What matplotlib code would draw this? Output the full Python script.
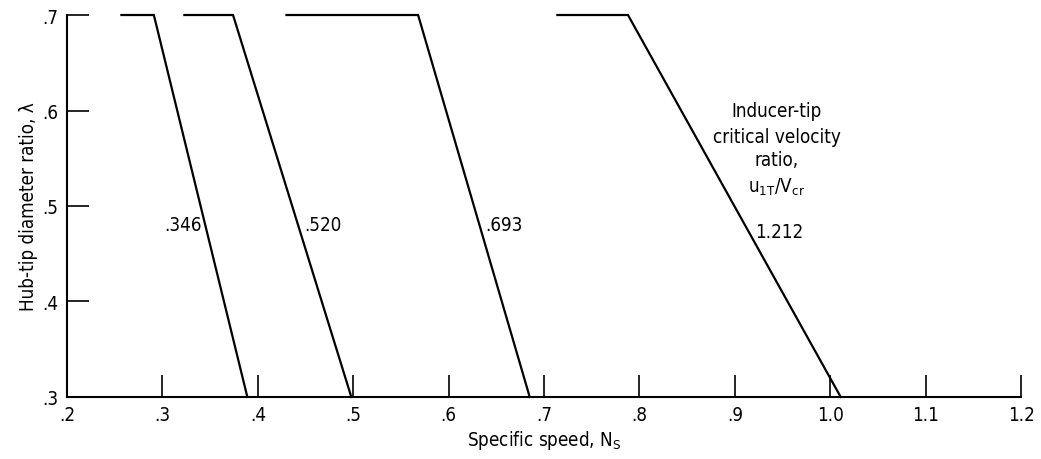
import matplotlib
matplotlib.use("Agg")
import matplotlib.pyplot as plt
from matplotlib import font_manager

names = {f.name for f in font_manager.fontManager.ttflist}
fam = ['Liberation Sans Narrow', 'DejaVu Sans'] if 'Liberation Sans Narrow' in names else ['DejaVu Sans']
plt.rcParams['font.family'] = fam
plt.rcParams['font.stretch'] = 'condensed'
plt.rcParams['mathtext.fontset'] = 'custom'
plt.rcParams['mathtext.rm'] = fam[0]
plt.rcParams['mathtext.it'] = fam[0]

# Data: each curve = horizontal at 0.7 from start to knee, then straight to (end, 0.3)
ratio_labels = ['.346', '.520', '.693', '1.212']
x_start = [0.257, 0.323, 0.430, 0.714]
x_knee = [0.291, 0.374, 0.568, 0.788]
x_end = [0.389, 0.498, 0.685, 1.011]
lam_top = 0.7
lam_bot = 0.3
label_x = [0.302, 0.449, 0.638, 0.921]
label_y = [0.481, 0.481, 0.481, 0.473]

xticks = [0.2, 0.3, 0.4, 0.5, 0.6, 0.7, 0.8, 0.9, 1.0, 1.1, 1.2]
xticklabels = ['.2', '.3', '.4', '.5', '.6', '.7', '.8', '.9', '1.0', '1.1', '1.2']
yticks = [0.3, 0.4, 0.5, 0.6, 0.7]
yticklabels = ['.3', '.4', '.5', '.6', '.7']

FS = 13.5

fig = plt.figure(figsize=(10.41, 4.6), dpi=100)
ax = fig.add_axes([0.0644, 0.1348, 0.9164, 0.8304])

for xs, xk, xe in zip(x_start, x_knee, x_end):
    ax.plot([xs, xk, xe], [lam_top, lam_top, lam_bot], color='black', lw=1.6,
            solid_joinstyle='miter', clip_on=False)

for lab, lx, ly in zip(ratio_labels, label_x, label_y):
    ax.text(lx, ly, lab, ha='left', va='center', fontsize=FS)

ax.text(0.944, 0.5995, 'Inducer-tip', ha='center', va='center', fontsize=FS)
ax.text(0.944, 0.5733, 'critical velocity', ha='center', va='center', fontsize=FS)
ax.text(0.944, 0.549, 'ratio,', ha='center', va='center', fontsize=FS)
ax.text(0.944, 0.521, r'$\mathrm{u}_{\mathrm{1T}}/\mathrm{V}_{\mathrm{cr}}$', ha='center', va='center', fontsize=FS)

ax.set_xlim(0.2, 1.2)
ax.set_ylim(0.3, 0.7)
ax.set_xticks(xticks)
ax.set_xticklabels(xticklabels)
ax.set_yticks(yticks)
ax.set_yticklabels(yticklabels)
ax.tick_params(direction='in', length=16, width=1.2, labelsize=FS, pad=6, colors='black')
ax.spines['top'].set_visible(False)
ax.spines['right'].set_visible(False)
ax.spines['left'].set_linewidth(1.5)
ax.spines['bottom'].set_linewidth(1.5)

ax.set_xlabel(r'Specific speed, N$_{\mathrm{S}}$', fontsize=FS, labelpad=3)
ax.set_ylabel('Hub-tip diameter ratio, λ', fontsize=FS, labelpad=3)

fig.savefig('out.png', dpi=100)
